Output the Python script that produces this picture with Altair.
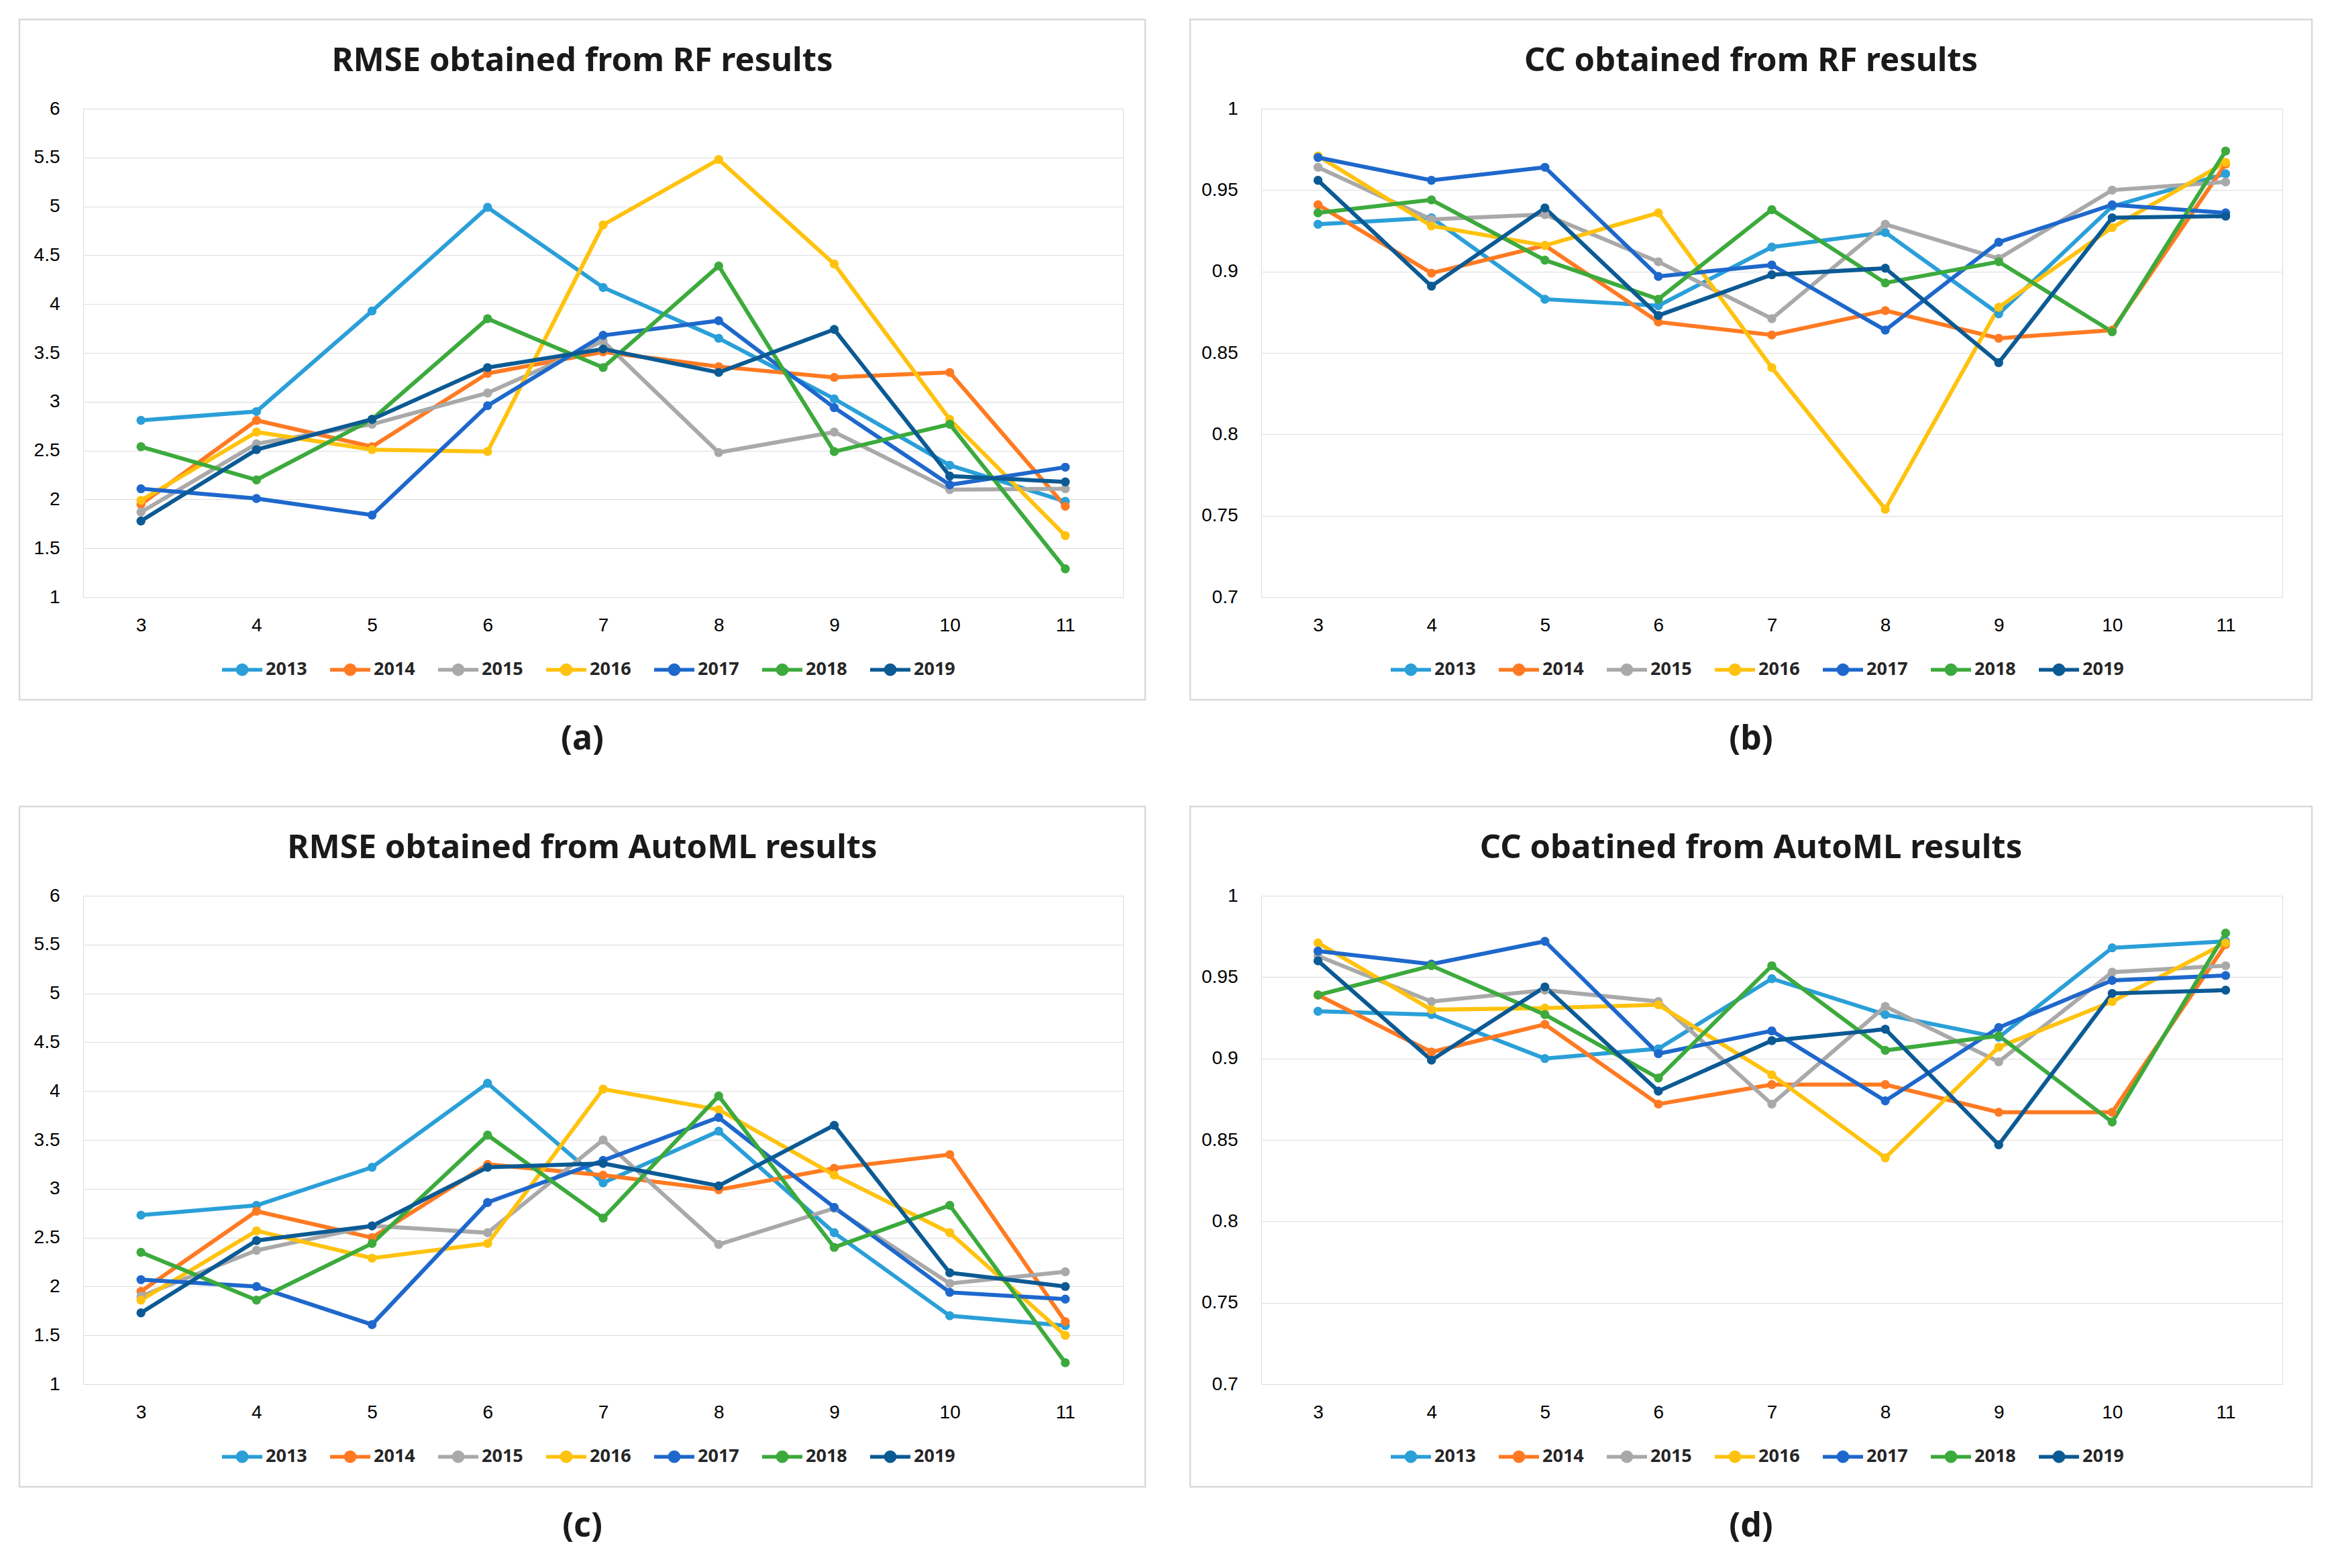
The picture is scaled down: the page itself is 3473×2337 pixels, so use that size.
import altair as alt
import pandas as pd

x_vals = [3, 4, 5, 6, 7, 8, 9, 10, 11]
years = ["2013", "2014", "2015", "2016", "2017", "2018", "2019"]
colors = ["#2A9FD8", "#FF7A22", "#A9A9A9", "#FFC20E", "#1E68CC", "#3CAA3C", "#0B5A94"]

rmse_rf_2013 = [2.81, 2.90, 3.93, 4.99, 4.17, 3.65, 3.03, 2.35, 1.98]
rmse_rf_2014 = [1.95, 2.81, 2.54, 3.29, 3.51, 3.36, 3.25, 3.30, 1.93]
rmse_rf_2015 = [1.87, 2.57, 2.77, 3.09, 3.62, 2.48, 2.69, 2.10, 2.11]
rmse_rf_2016 = [1.99, 2.69, 2.51, 2.49, 4.81, 5.48, 4.41, 2.82, 1.63]
rmse_rf_2017 = [2.11, 2.01, 1.84, 2.96, 3.68, 3.83, 2.94, 2.15, 2.33]
rmse_rf_2018 = [2.54, 2.20, 2.82, 3.85, 3.35, 4.39, 2.49, 2.77, 1.29]
rmse_rf_2019 = [1.78, 2.51, 2.82, 3.35, 3.54, 3.30, 3.74, 2.24, 2.18]

cc_rf_2013 = [0.929, 0.933, 0.883, 0.879, 0.915, 0.924, 0.874, 0.940, 0.960]
cc_rf_2014 = [0.941, 0.899, 0.916, 0.869, 0.861, 0.876, 0.859, 0.864, 0.966]
cc_rf_2015 = [0.964, 0.932, 0.935, 0.906, 0.871, 0.929, 0.908, 0.950, 0.955]
cc_rf_2016 = [0.971, 0.928, 0.916, 0.936, 0.841, 0.754, 0.878, 0.927, 0.967]
cc_rf_2017 = [0.970, 0.956, 0.964, 0.897, 0.904, 0.864, 0.918, 0.941, 0.936]
cc_rf_2018 = [0.936, 0.944, 0.907, 0.883, 0.938, 0.893, 0.906, 0.863, 0.974]
cc_rf_2019 = [0.956, 0.891, 0.939, 0.873, 0.898, 0.902, 0.844, 0.933, 0.934]

rmse_aml_2013 = [2.73, 2.83, 3.22, 4.08, 3.06, 3.59, 2.55, 1.70, 1.60]
rmse_aml_2014 = [1.95, 2.77, 2.50, 3.25, 3.14, 2.99, 3.21, 3.35, 1.64]
rmse_aml_2015 = [1.90, 2.37, 2.62, 2.55, 3.50, 2.43, 2.80, 2.03, 2.15]
rmse_aml_2016 = [1.86, 2.57, 2.29, 2.44, 4.02, 3.81, 3.14, 2.55, 1.50]
rmse_aml_2017 = [2.07, 2.00, 1.61, 2.86, 3.29, 3.73, 2.81, 1.94, 1.87]
rmse_aml_2018 = [2.35, 1.86, 2.44, 3.55, 2.70, 3.95, 2.40, 2.83, 1.22]
rmse_aml_2019 = [1.73, 2.47, 2.62, 3.22, 3.26, 3.03, 3.65, 2.14, 2.00]

cc_aml_2013 = [0.929, 0.927, 0.900, 0.906, 0.949, 0.927, 0.913, 0.968, 0.972]
cc_aml_2014 = [0.939, 0.904, 0.921, 0.872, 0.884, 0.884, 0.867, 0.867, 0.970]
cc_aml_2015 = [0.963, 0.935, 0.942, 0.935, 0.872, 0.932, 0.898, 0.953, 0.957]
cc_aml_2016 = [0.971, 0.930, 0.931, 0.933, 0.890, 0.839, 0.907, 0.935, 0.971]
cc_aml_2017 = [0.966, 0.958, 0.972, 0.903, 0.917, 0.874, 0.919, 0.948, 0.951]
cc_aml_2018 = [0.939, 0.957, 0.927, 0.888, 0.957, 0.905, 0.914, 0.861, 0.977]
cc_aml_2019 = [0.960, 0.899, 0.944, 0.880, 0.911, 0.918, 0.847, 0.940, 0.942]

rmse_ticks = [1, 1.5, 2, 2.5, 3, 3.5, 4, 4.5, 5, 5.5, 6]
cc_ticks = [0.7, 0.75, 0.8, 0.85, 0.9, 0.95, 1]

FONT = "Noto Sans"
H = 728


def long_df(series):
    rows = []
    for yr, vals in zip(years, series):
        for xv, v in zip(x_vals, vals):
            rows.append({"x": xv, "year": yr, "value": v})
    return pd.DataFrame(rows)


def panel(series, title, label, ticks, fmt, width, left, right):
    df = long_df(series)
    cx = (width + right - left) / 2.0
    color = alt.Color(
        "year:N",
        scale=alt.Scale(domain=years, range=colors),
        legend=alt.Legend(
            orient="none",
            direction="horizontal",
            legendX=cx - 540,
            legendY=803,
            title=None,
            symbolType="M-1,0L1,0M-0.22,0A0.22,0.22,0,1,1,0.22,0A0.22,0.22,0,1,1,-0.22,0Z",
            symbolSize=3600,
            symbolStrokeWidth=5.5,
            labelFont=FONT,
            labelFontSize=27,
            labelFontWeight="bold",
            labelColor="#262626",
            labelOffset=2,
            columnPadding=23,
        ),
    )
    xenc = alt.X(
        "x:O",
        scale=alt.Scale(type="point", padding=0.5),
        axis=alt.Axis(title=None, labelAngle=0, domain=False, ticks=False, grid=False,
                      labelPadding=28, labelFontSize=28),
    )
    yenc = alt.Y(
        "value:Q",
        scale=alt.Scale(domain=[ticks[0], ticks[-1]], nice=False, zero=False),
        axis=alt.Axis(title=None, values=ticks, format=fmt, domain=False, ticks=False,
                      labelPadding=35, labelFontSize=28),
    )
    base = alt.Chart(df).encode(x=xenc, y=yenc, color=color)
    lines = base.mark_line(strokeWidth=6)
    pts = base.mark_circle(size=180, opacity=1)
    one = alt.Data(values=[{"a": 1}])
    box = alt.Chart(one).mark_rect(fill="transparent", stroke="#d9d9d9", strokeWidth=2.5).encode(
        x=alt.value(-left), x2=alt.value(width + right), y=alt.value(-133), y2=alt.value(H + 153)
    )
    ttl = alt.Chart(one).mark_text(
        text=title, font=FONT, fontSize=49, fontWeight="bold", color="#1a1a1a",
        align="center", baseline="middle"
    ).encode(x=alt.value(cx), y=alt.value(-71))
    lab = alt.Chart(one).mark_text(
        text=label, font=FONT, fontSize=50, fontWeight="bold", color="#1a1a1a",
        align="center", baseline="middle"
    ).encode(x=alt.value(cx), y=alt.value(940))
    return alt.layer(box, lines, pts, ttl, lab).properties(width=width, height=H)


pa = panel([rmse_rf_2013, rmse_rf_2014, rmse_rf_2015, rmse_rf_2016, rmse_rf_2017, rmse_rf_2018, rmse_rf_2019],
           "RMSE obtained from RF results", "(a)", rmse_ticks, ".1~f", 1550, 95, 33)
pb = panel([cc_rf_2013, cc_rf_2014, cc_rf_2015, cc_rf_2016, cc_rf_2017, cc_rf_2018, cc_rf_2019],
           "CC obtained from RF results", "(b)", cc_ticks, ".2~f", 1522, 106, 44)
pc = panel([rmse_aml_2013, rmse_aml_2014, rmse_aml_2015, rmse_aml_2016, rmse_aml_2017, rmse_aml_2018, rmse_aml_2019],
           "RMSE obtained from AutoML results", "(c)", rmse_ticks, ".1~f", 1550, 95, 33)
pd_ = panel([cc_aml_2013, cc_aml_2014, cc_aml_2015, cc_aml_2016, cc_aml_2017, cc_aml_2018, cc_aml_2019],
            "CC obatined from AutoML results", "(d)", cc_ticks, ".2~f", 1522, 106, 44)

chart = alt.ConcatChart(
    concat=[pa, pb, pc, pd_],
    columns=2,
    bounds="flush",
    spacing={"row": 445, "column": 206},
).resolve_scale(color="independent", y="independent", x="independent").resolve_legend(
    color="independent"
).properties(
    padding={"left": 19, "top": 19, "right": 10, "bottom": 10}
).configure_view(
    stroke="transparent"
).configure_axis(
    labelFont=FONT, labelFontWeight="bold", labelColor="#262626",
    gridColor="#d9d9d9", gridWidth=2.5,
).configure(background="white")

chart.save("out.html", embed_options={"renderer": "svg", "actions": False})
